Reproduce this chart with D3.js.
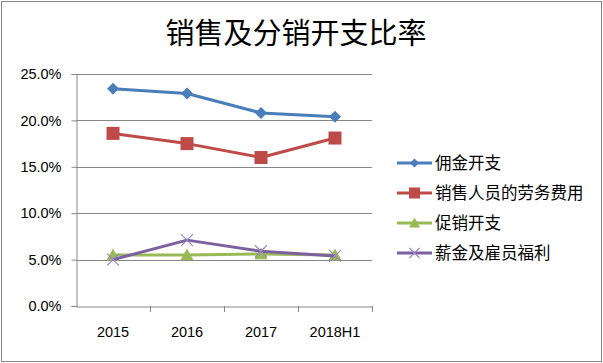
<!DOCTYPE html>
<html lang="zh">
<head>
<meta charset="UTF-8">
<title>销售及分销开支比率</title>
<script src="https://d3js.org/d3.v7.min.js"></script>
<style>
  body { margin: 0; background: #fff; }
  text { font-family: 'Liberation Sans', Arial, 'Noto Sans CJK SC', sans-serif; fill: #000; }
  .cjk { font-family: 'Noto Sans CJK SC', sans-serif; }
</style>
</head>
<body>
<script>
const categories = ["2015", "2016", "2017", "2018H1"];
const seriesNames = ["佣金开支", "销售人员的劳务费用", "促销开支", "薪金及雇员福利"];
const commission = [0.234, 0.229, 0.208, 0.204];
const salesLabour = [0.186, 0.175, 0.160, 0.181];
const promotion = [0.055, 0.055, 0.056, 0.055];
const salaries = [0.050, 0.071, 0.059, 0.054];
const yTicks = [0, 0.05, 0.10, 0.15, 0.20, 0.25];

const colors = ["#4A7EBB", "#BE4B48", "#98B954", "#7D60A0"];
const markers = ["diamond", "square", "triangle", "cross"];
const values = [commission, salesLabour, promotion, salaries];

const W = 603, H = 363;
const svg = d3.select("body").append("svg").attr("width", W).attr("height", H);

svg.append("rect").attr("x", 1.5).attr("y", 1.5).attr("width", W - 3).attr("height", H - 3)
  .attr("fill", "#fff").attr("stroke", "#868686").attr("stroke-width", 1);

const x = d3.scaleBand().domain(categories).range([76, 372]);
const y = d3.scaleLinear().domain([0, 0.25]).range([306, 74]);

// gridlines
svg.append("g").selectAll("line").data(yTicks.slice(1)).join("line")
  .attr("x1", 76).attr("x2", 372)
  .attr("y1", d => Math.round(y(d)) + 0.5).attr("y2", d => Math.round(y(d)) + 0.5)
  .attr("stroke", "#868686");

// y axis
const yAxis = svg.append("g").attr("transform", "translate(76.5,0)")
  .call(d3.axisLeft(y).tickValues(yTicks).tickFormat(d3.format(".1%")).tickSize(5).tickPadding(10));
yAxis.select(".domain").attr("stroke", "#868686");
yAxis.selectAll(".tick line").attr("stroke", "#868686");
yAxis.selectAll(".tick text").style("font-size", "14.5px").attr("fill", "#000");

// x axis
const xAxis = svg.append("g").attr("transform", "translate(0,306.5)")
  .call(d3.axisBottom(x).tickSize(0).tickPadding(20));
xAxis.select(".domain").attr("stroke", "#868686");
xAxis.selectAll(".tick text").style("font-size", "14.5px").attr("fill", "#000");
svg.append("g").selectAll("line").data(categories.slice(1).concat(["end"])).join("line")
  .attr("x1", (d, i) => Math.round(76 + x.bandwidth() * (i + 1)) + 0.5)
  .attr("x2", (d, i) => Math.round(76 + x.bandwidth() * (i + 1)) + 0.5)
  .attr("y1", 306).attr("y2", 312).attr("stroke", "#868686");

function drawMarker(g, type, color, s) {
  if (type === "diamond") {
    g.append("path").attr("d", `M0,${-s}L${s},0L0,${s}L${-s},0Z`).attr("fill", color);
  } else if (type === "square") {
    g.append("rect").attr("x", -s).attr("y", -s).attr("width", 2 * s).attr("height", 2 * s).attr("fill", color);
  } else if (type === "triangle") {
    g.append("path").attr("d", `M0,${-s}L${s},${s * 0.8}L${-s},${s * 0.8}Z`).attr("fill", color);
  } else {
    g.append("path").attr("d", `M${-s},${-s}L${s},${s}M${s},${-s}L${-s},${s}`)
      .attr("stroke", "#9C86C6").attr("stroke-width", 1.2).attr("fill", "none");
  }
}

const line = d3.line().x((d, i) => x(categories[i]) + x.bandwidth() / 2).y(d => y(d));
const mSize = [6, 6.5, 6.5, 6];

values.forEach((vals, k) => {
  svg.append("path").datum(vals).attr("d", line)
    .attr("fill", "none").attr("stroke", colors[k]).attr("stroke-width", 3).attr("stroke-linejoin", "round");
  vals.forEach((v, i) => {
    const g = svg.append("g").attr("transform", `translate(${x(categories[i]) + x.bandwidth() / 2},${y(v)})`);
    drawMarker(g, markers[k], colors[k], mSize[k]);
  });
});

// legend
const lg = svg.append("g");
seriesNames.forEach((name, k) => {
  const yy = 163 + k * 30;
  const g = lg.append("g").attr("transform", `translate(0,${yy})`);
  g.append("line").attr("x1", 397).attr("x2", 432).attr("y1", 0).attr("y2", 0)
    .attr("stroke", colors[k]).attr("stroke-width", 3);
  const m = g.append("g").attr("transform", "translate(414.5,0)");
  drawMarker(m, markers[k], colors[k], [4.5, 5.5, 5.5, 5][k]);
  g.append("text").attr("class", "cjk").attr("x", 435).attr("y", 0).attr("dy", "0.36em")
    .style("font-size", "16.5px").text(name);
});

// title
svg.append("text").attr("class", "cjk").attr("x", 296).attr("y", 34).attr("dy", "0.36em")
  .attr("text-anchor", "middle").style("font-size", "29px").text("销售及分销开支比率");
</script>
</body>
</html>
